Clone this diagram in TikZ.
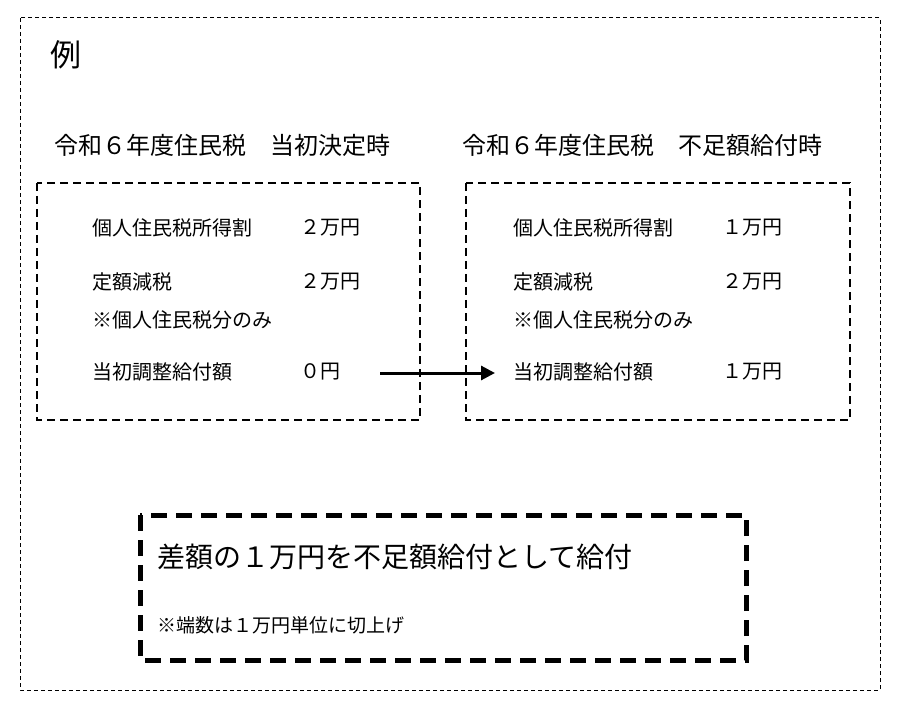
\documentclass[tikz,border=0pt]{standalone}
\usepackage{fontspec}
\setmainfont{Noto Sans CJK JP}
\usetikzlibrary{arrows.meta}
\begin{document}
\begin{tikzpicture}[x=1pt,y=-1pt,
  txt/.style={anchor=west,inner sep=0pt,font=\fontsize{20}{22}\selectfont},
  bx/.style={draw,line width=2.2pt,dash pattern=on 8pt off 5pt}]
\useasboundingbox (0,0) rectangle (900,714);
\draw[line width=1pt,dash pattern=on 4pt off 3pt] (20,18) rectangle (880,690);
\node[txt,font=\fontsize{31}{33}\selectfont] (rei) at (50,55) {例};
\node[txt,font=\fontsize{24}{26}\selectfont] (h1) at (54,145) {令和６年度住民税　当初決定時};
\node[txt,font=\fontsize{24}{26}\selectfont] (h2) at (462,145) {令和６年度住民税　不足額給付時};
\draw[bx] (37,183) rectangle (420,420);
\draw[bx] (466,183) rectangle (850,420);
\node[txt] (a1) at (92,228) {個人住民税所得割};
\node[txt] (a1v) at (300,228) {２万円};
\node[txt] (a2) at (92,282) {定額減税};
\node[txt] (a2v) at (300,282) {２万円};
\node[txt] (a3) at (92,320) {※個人住民税分のみ};
\node[txt] (a4) at (92,372) {当初調整給付額};
\node[txt] (a4v) at (300,372) {０円};
\node[txt] (b1) at (513,228) {個人住民税所得割};
\node[txt] (b1v) at (722,228) {１万円};
\node[txt] (b2) at (513,282) {定額減税};
\node[txt] (b2v) at (722,282) {２万円};
\node[txt] (b3) at (513,320) {※個人住民税分のみ};
\node[txt] (b4) at (513,372) {当初調整給付額};
\node[txt] (b4v) at (722,372) {１万円};
\coordinate (s) at (380,373);
\draw[line width=3pt,-{Triangle[length=14pt,width=14pt]}] (s) -- ([xshift=-18pt]b4.west |- s);
\draw[line width=5pt,dash pattern=on 16pt off 9pt] (140,515) rectangle (746,660);
\node[txt,font=\fontsize{28}{30}\selectfont] (c1) at (157,557) {差額の１万円を不足額給付として給付};
\node[txt,font=\fontsize{19}{21}\selectfont] (c2) at (157,625) {※端数は１万円単位に切上げ};
\end{tikzpicture}
\end{document}
